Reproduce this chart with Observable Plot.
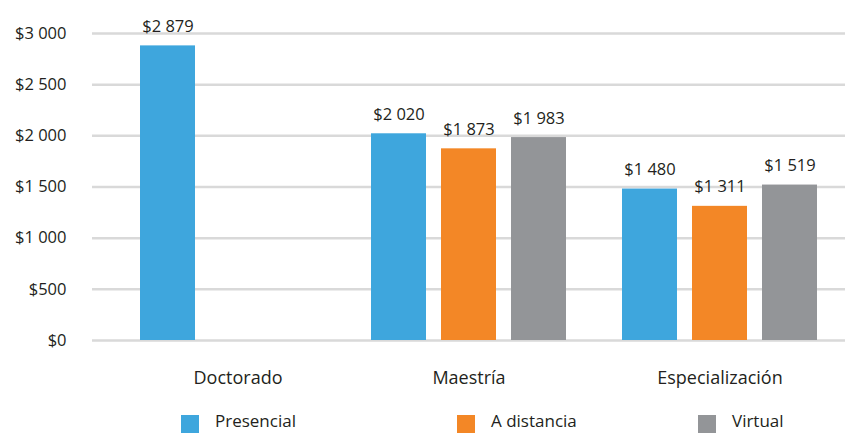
<!DOCTYPE html>
<html>
<head>
<meta charset="utf-8">
<script src="https://cdn.jsdelivr.net/npm/d3@7"></script>
<script src="https://cdn.jsdelivr.net/npm/@observablehq/plot@0.6"></script>
<style>
  html, body { margin: 0; padding: 0; background: #fff; }
  body { width: 866px; height: 433px; overflow: hidden; position: relative; font-family: "Open Sans", sans-serif; color: #231f20; }
  #legend { position: absolute; left: 0; top: 0; width: 866px; height: 433px; pointer-events: none; }
  .item { position: absolute; top: 412px; display: flex; align-items: flex-start; font-size: 17px; line-height: 18px; }
  .sw { width: 18px; height: 18px; margin-right: 16px; margin-top: 3px; }
</style>
</head>
<body>
<div id="chart"></div>
<div id="legend"></div>
<script>
const levels = ["Doctorado", "Maestría", "Especialización"];
const modes = ["Presencial", "A distancia", "Virtual"];
const colors = ["#3ea6dd", "#f38726", "#939598"];
const presencial = [2879, 2020, 1480];
const aDistancia = [null, 1873, 1311];
const virtual = [null, 1983, 1519];
const yTicks = [0, 500, 1000, 1500, 2000, 2500, 3000];

const series = [presencial, aDistancia, virtual];
const data = [];
levels.forEach((lvl, i) => {
  modes.forEach((m, j) => {
    const v = series[j][i];
    if (v != null) data.push({level: lvl, mode: m, value: v});
  });
});

const money = d => "$" + d3.format(",")(d).replace(/,/g, " ");
// the first group sits slightly right of its slot in the original layout
const shift = 20;
const first = data.filter(d => d.level === levels[0]);
const rest = data.filter(d => d.level !== levels[0]);

const barOpts = {fx: "level", x: "mode", y: "value", fill: "mode"};
const txtOpts = {fx: "level", x: "mode", y: "value", text: d => money(d.value), dy: -14, lineAnchor: "bottom", fill: "#231f20", fontSize: 16.5};
const catOpts = {fx: d => d, text: d => d, frameAnchor: "bottom", lineAnchor: "middle", dy: 38, fontSize: 18, fill: "#231f20"};

const chart = Plot.plot({
  width: 866,
  height: 400,
  marginTop: 33,
  marginBottom: 60,
  marginLeft: 92,
  marginRight: 21,
  style: {fontFamily: "Open Sans, sans-serif", fontSize: "15px", color: "#231f20", background: "#fff", overflow: "visible"},
  fx: {domain: levels, padding: 0, label: null, axis: null},
  x: {domain: modes, paddingInner: 0.2143, paddingOuter: 0.4, axis: null},
  y: {domain: [0, 3000], label: null, axis: null},
  color: {domain: modes, range: colors},
  marks: [
    Plot.ruleY(yTicks, {stroke: "#d9d9d9", strokeWidth: 2.5}),
    Plot.axisY(yTicks, {tickFormat: money, tickSize: 0, tickPadding: 26, fontSize: 16.5, label: null, fill: "#231f20"}),
    Plot.barY(first, {...barOpts, dx: shift}),
    Plot.barY(rest, barOpts),
    Plot.text(first, {...txtOpts, dx: shift}),
    Plot.text(rest, txtOpts),
    Plot.text([levels[0]], {...catOpts, dx: shift}),
    Plot.text(levels.slice(1), catOpts)
  ]
});
document.getElementById("chart").appendChild(chart);

const lx = [181, 457, 698];
const legend = document.getElementById("legend");
modes.forEach((m, i) => {
  const it = document.createElement("div");
  it.className = "item";
  it.style.left = lx[i] + "px";
  it.innerHTML = `<div class="sw" style="background:${colors[i]}"></div><span>${m}</span>`;
  legend.appendChild(it);
});
</script>
</body>
</html>
